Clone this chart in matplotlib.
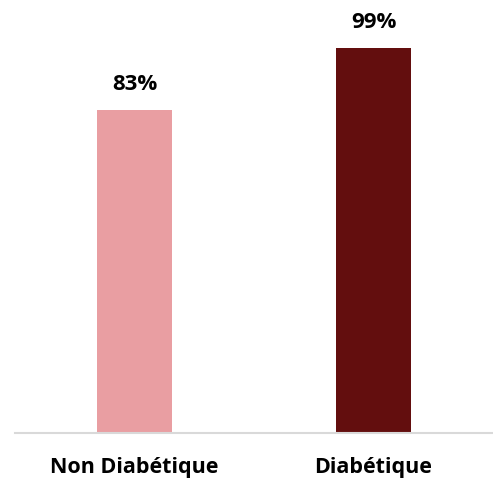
import matplotlib.pyplot as plt

categories = ["Non Diabétique", "Diabétique"]
values = [83, 99]
colors = ["#E99EA2", "#630E0E"]

plt.rcParams['font.family'] = ['Open Sans', 'DejaVu Sans']

fig = plt.figure(figsize=(4.93, 4.82), dpi=100)
ax = fig.add_axes([0.0304, 0.1017, 0.9696, 0.888])

x = range(len(categories))
bars = ax.bar(x, values, width=0.314, color=colors)

for b, v in zip(bars, values):
    ax.annotate(f"{v}%", (b.get_x() + b.get_width() / 2, v),
                xytext=(0, 10.5), textcoords="offset points",
                ha="center", va="bottom", fontsize=16, fontweight="bold")

ax.set_xlim(-0.5, 1.5)
ax.set_ylim(0, 110)
ax.set_xticks(list(x))
ax.set_xticklabels(categories, fontsize=15.5, fontweight="bold")
ax.tick_params(axis="x", length=0, pad=17)
ax.set_yticks([])
for s in ["top", "right", "left"]:
    ax.spines[s].set_visible(False)
ax.spines["bottom"].set_color("#D9D9D9")
ax.spines["bottom"].set_linewidth(1.5)

fig.savefig("out.png", dpi=100)
